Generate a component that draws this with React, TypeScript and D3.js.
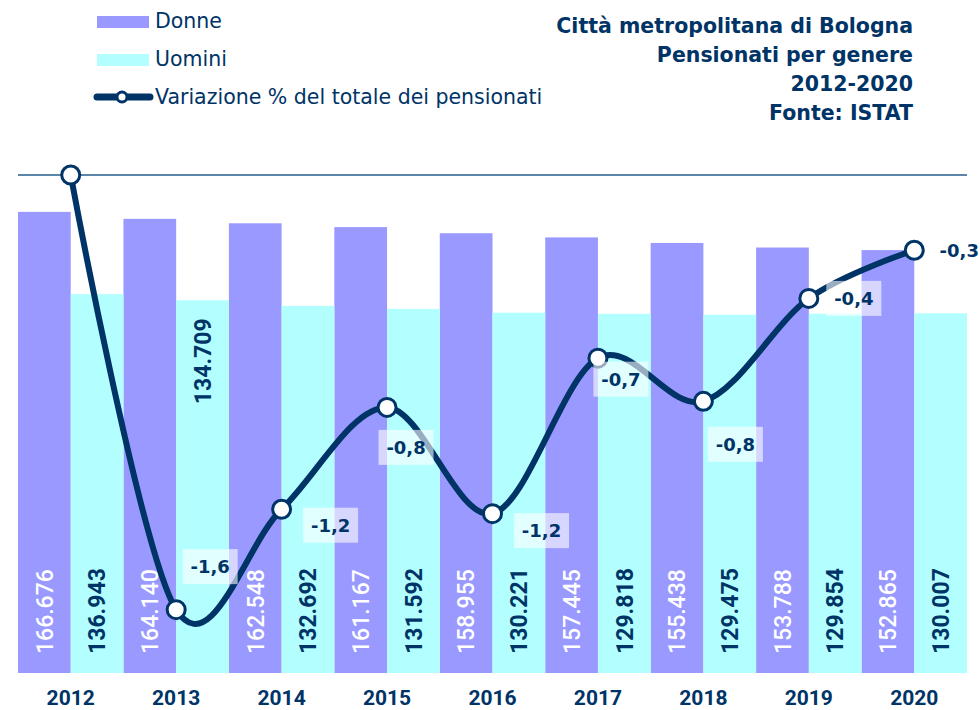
import React from "react";
import * as d3 from "d3";

// dati ISTAT, Città metropolitana di Bologna
const years = ["2012", "2013", "2014", "2015", "2016", "2017", "2018", "2019", "2020"];
const donne = [166676, 164140, 162548, 161167, 158955, 157445, 155438, 153788, 152865];
const uomini = [136943, 134709, 132692, 131592, 130221, 129818, 129475, 129854, 130007];
const variazione = [0, -1.571, -1.208, -0.84, -1.224, -0.662, -0.818, -0.446, -0.272];
const titleLines = ["Città metropolitana di Bologna", "Pensionati per genere", "2012-2020", "Fonte: ISTAT"];
const legendLabels = ["Donne", "Uomini", "Variazione % del totale dei pensionati"];

// where the percentage boxes sit relative to their point (as in the original)
const labelOffsets: ([number, number] | null)[] = [null, [34, -43], [49, 16], [19, 40], [49, 17], [23, 21], [32, 43], [45, 0], [45, 0]];
const uominiLabelAtTop = ["2013"];

const W = 980;
const H = 710;
const NAVY = "#003366";
const C_DONNE = "#9999FF";
const C_UOMINI = "#B3FFFF";

const fmtInt = (v: number) => d3.format(",")(v).replace(/,/g, ".");
const fmtPct = (v: number) => d3.format(".1f")(v).replace(".", ",").replace("−", "-");

export default function App() {
  const plotLeft = 18, plotRight = 967, plotTop = 175, plotBottom = 673;

  const x = d3.scaleBand<string>().domain(years).range([plotLeft, plotRight]).padding(0);
  const xs = d3.scaleBand<string>().domain(["Donne", "Uomini"]).range([0, x.bandwidth()]).padding(0);
  const y = d3.scaleLinear().domain([0, 180000]).range([plotBottom, plotTop]);
  const y2 = d3.scaleLinear().domain([-1.8, 0]).range([plotBottom, plotTop]);

  const cx = (i: number) => (x(years[i]) as number) + x.bandwidth() / 2;

  const line = d3.line<number>()
    .x((_, i) => cx(i))
    .y(d => y2(d))
    .curve(d3.curveCardinal.tension(0));

  const sans = "'DejaVu Sans', sans-serif";
  const num = "Roboto, sans-serif";

  const series = [
    { key: "Donne", values: donne, fill: C_DONNE, text: "#FFFFFF", weight: 500 },
    { key: "Uomini", values: uomini, fill: C_UOMINI, text: NAVY, weight: 700 },
  ];

  return (
    <svg width={W} height={H} style={{ position: "absolute", left: 0, top: 0, background: "#fff" }}>
      {/* legend */}
      <g fontFamily={sans} fontSize={20.5} fill={NAVY}>
        <rect x={97} y={16} width={52} height={12} fill={C_DONNE} />
        <text x={155} y={28}>{legendLabels[0]}</text>
        <rect x={97} y={54} width={52} height={12} fill={C_UOMINI} />
        <text x={155} y={66}>{legendLabels[1]}</text>
        <line x1={97} x2={150} y1={97} y2={97} stroke={NAVY} strokeWidth={7} strokeLinecap="round" />
        <circle cx={122} cy={97} r={5} fill="#fff" stroke={NAVY} strokeWidth={3} />
        <text x={155} y={104}>{legendLabels[2]}</text>
      </g>

      {/* title */}
      <g fontFamily={sans} fontSize={20.5} fontWeight="bold" fill={NAVY} textAnchor="end">
        {titleLines.map((t, i) => (
          <text key={t} x={913} y={33 + i * 29}>{t}</text>
        ))}
      </g>

      {/* bars */}
      {series.map(s => (
        <g key={s.key}>
          {s.values.map((v, i) => {
            const bx = (x(years[i]) as number) + (xs(s.key) as number);
            return <rect key={i} x={bx} y={y(v)} width={xs.bandwidth()} height={plotBottom - y(v)} fill={s.fill} />;
          })}
        </g>
      ))}

      {/* bar labels */}
      {series.map(s => (
        <g key={s.key + "-lbl"} fontFamily={num} fontSize={23} fontWeight={s.weight} fill={s.text}>
          {s.values.map((v, i) => {
            const lx = (x(years[i]) as number) + (xs(s.key) as number) + xs.bandwidth() / 2;
            const atTop = s.key === "Uomini" && uominiLabelAtTop.includes(years[i]);
            const ly = atTop ? y(v) + 18 : plotBottom - 19;
            return (
              <text key={i} transform={`translate(${lx},${ly}) rotate(-90)`} textAnchor={atTop ? "end" : "start"} dy="0.36em">
                {fmtInt(v)}
              </text>
            );
          })}
        </g>
      ))}

      {/* top rule */}
      <line x1={plotLeft} x2={plotRight} y1={plotTop} y2={plotTop} stroke="#245E8C" strokeWidth={1.3} />

      {/* year axis */}
      <g fontFamily={num} fontSize={21} fontWeight="bold" fill={NAVY} textAnchor="middle">
        {years.map((yr, i) => (
          <text key={yr} x={cx(i)} y={705}>{yr}</text>
        ))}
      </g>

      {/* percentage line */}
      <path d={line(variazione) || ""} fill="none" stroke={NAVY} strokeWidth={6} />
      {variazione.map((v, i) => (
        <circle key={i} cx={cx(i)} cy={y2(v)} r={9} fill="#fff" stroke={NAVY} strokeWidth={3} />
      ))}

      {/* percentage labels */}
      <g fontFamily={sans} fontSize={18} fontWeight="bold" fill={NAVY} textAnchor="middle">
        {variazione.map((v, i) => {
          const off = labelOffsets[i];
          if (!off) return null;
          const bx = cx(i) + off[0];
          const by = y2(v) + off[1];
          return (
            <g key={i}>
              <rect x={bx - 27.5} y={by - 17.5} width={55} height={35} fill="#fff" fillOpacity={0.6} />
              <text x={bx} y={by} dy="0.36em">{fmtPct(v)}</text>
            </g>
          );
        })}
      </g>
    </svg>
  );
}
